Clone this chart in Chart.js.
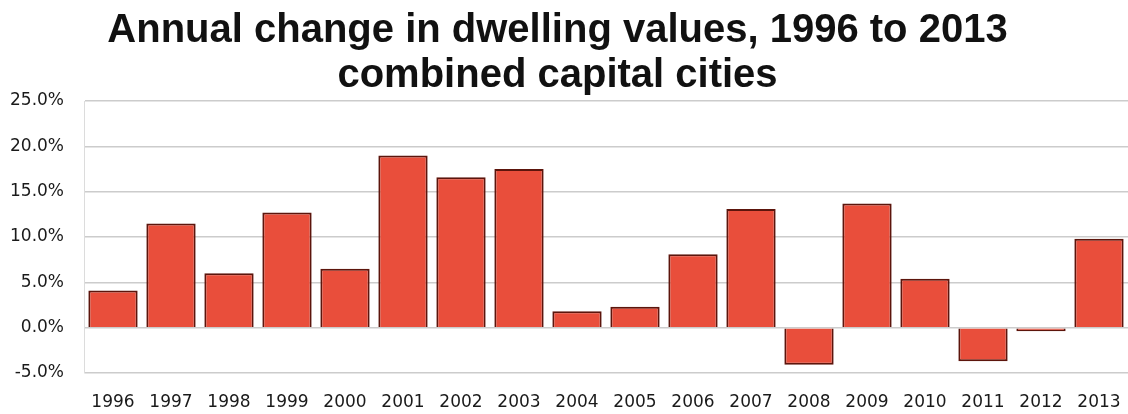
<!DOCTYPE html>
<html lang="en">
<head>
    <meta charset="UTF-8">
    <script src="https://cdn.jsdelivr.net/npm/chart.js"></script>
    <title>Annual change in dwelling values</title>
    <style>
      body { margin: 0; background: #fff; overflow: hidden; }
    </style>
</head>
<body>
  <canvas id="dwelling-chart" width="1128" height="414"></canvas>
  <script>
  var years = ['1996', '1997', '1998', '1999', '2000', '2001', '2002', '2003', '2004',
               '2005', '2006', '2007', '2008', '2009', '2010', '2011', '2012', '2013'];
  var annualChange = [4.1, 11.5, 6.0, 12.7, 6.5, 19.0, 16.6, 17.5, 1.8,
                      2.3, 8.1, 13.1, -4.1, 13.7, 5.4, -3.7, -0.4, 9.8];
  var titleLines = ['Annual change in dwelling values, 1996 to 2013', 'combined capital cities'];

  const dwellingConfig = {
    type: 'bar',
    data: {
      labels: years,
      datasets: [{
        label: 'Annual change',
        data: annualChange,
        backgroundColor: '#e94e3b',
        borderColor: '#5c150c',
        borderWidth: 2,
        categoryPercentage: 1.0,
        barPercentage: 0.85
      }]
    },
    options: {
      responsive: false,
      animation: false,
      // negative sides so the title centres where the original one does
      layout: {
        padding: { left: -16, right: -3, top: 0, bottom: 0 }
      },
      scales: {
        x: {
          grid: { display: false, drawTicks: false },
          border: { display: false },
          ticks: {
            color: '#1a1a1a',
            padding: 19,
            maxRotation: 0,
            font: { family: 'DejaVu Sans', size: 17 }
          },
          afterFit: function (scale) {
            scale.height = 41;
            scale.paddingLeft = 0;
            scale.paddingRight = 0;
          }
        },
        y: {
          min: -5,
          max: 25,
          grid: {
            color: '#cccccc',
            lineWidth: 1.5,
            drawTicks: false
          },
          border: { display: true, color: '#dcdcdc' },
          ticks: {
            stepSize: 5,
            color: '#1a1a1a',
            padding: 20,
            font: { family: 'DejaVu Sans', size: 17 },
            callback: function (v) { return v.toFixed(1) + '%'; }
          },
          afterFit: function (scale) {
            scale.width = 100;
          }
        }
      },
      plugins: {
        legend: { display: false },
        tooltip: { enabled: false },
        title: {
          display: true,
          text: titleLines,
          color: '#111',
          padding: { top: 8, bottom: 3 },
          font: { family: 'Liberation Sans', size: 40, weight: 'bold', lineHeight: 1.125 }
        }
      }
    }
  };

  var dwellingCtx = document.getElementById('dwelling-chart').getContext('2d');
  var dwellingChart = new Chart(dwellingCtx, dwellingConfig);
  </script>
</body>
</html>
